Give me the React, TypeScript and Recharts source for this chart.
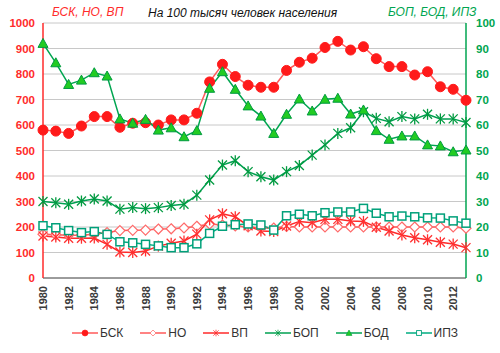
import React from 'react'
import { ComposedChart, Line, XAxis, YAxis, CartesianGrid, Legend } from 'recharts'

const years = [
  '1980', '1981', '1982', '1983', '1984', '1985', '1986', '1987', '1988', '1989',
  '1990', '1991', '1992', '1993', '1994', '1995', '1996', '1997', '1998', '1999',
  '2000', '2001', '2002', '2003', '2004', '2005', '2006', '2007', '2008', '2009',
  '2010', '2011', '2012', '2013',
]

// left axis (per 100k)
const bsk = [580, 576, 567, 596, 633, 633, 591, 607, 609, 600, 620, 620, 646, 769, 838, 790, 756, 748, 748, 814, 846, 862, 904, 928, 894, 907, 860, 829, 829, 796, 809, 750, 740, 697]
const no = [172, 170, 168, 168, 172, 178, 186, 187, 188, 192, 193, 196, 203, 212, 208, 204, 200, 196, 196, 202, 200, 200, 200, 200, 200, 200, 200, 200, 200, 200, 200, 200, 200, 195]
const vp = [165, 161, 156, 156, 157, 132, 102, 100, 106, 125, 136, 145, 172, 228, 252, 240, 205, 184, 182, 204, 222, 217, 230, 230, 224, 222, 199, 184, 169, 158, 150, 140, 133, 119]

// right axis
const bop = [30.0, 29.5, 28.9, 30.2, 31.0, 30.2, 27.0, 27.6, 27.2, 27.6, 28.4, 28.9, 32.5, 38.4, 44.3, 46.0, 41.7, 39.7, 38.4, 41.7, 44.1, 48.2, 52.2, 56.7, 58.9, 65.2, 62.6, 61.3, 63.3, 62.4, 64.2, 62.4, 62.4, 61.0]
const bod = [92.0, 84.4, 75.9, 77.6, 80.5, 79.2, 62.4, 60.7, 62.2, 58.0, 58.9, 55.4, 57.8, 74.4, 80.9, 74.0, 67.5, 63.5, 56.7, 64.2, 70.2, 65.5, 70.1, 70.5, 64.3, 65.9, 57.8, 54.4, 55.7, 55.7, 52.2, 51.8, 49.5, 50.2]
const ipz = [20.5, 19.7, 18.6, 17.8, 18.2, 17.1, 14.2, 13.8, 13.2, 12.6, 11.9, 11.9, 13.4, 17.5, 20.3, 20.9, 21.2, 20.8, 18.8, 24.4, 25.0, 24.4, 25.6, 25.9, 25.9, 27.3, 25.4, 24.0, 24.3, 24.0, 23.6, 23.5, 22.4, 21.5]

const leftTicks = [0, 100, 200, 300, 400, 500, 600, 700, 800, 900, 1000]
const rightTicks = [0, 10, 20, 30, 40, 50, 60, 70, 80, 90, 100]

const FONT = '"Liberation Sans", Arial, sans-serif'
const RED = '#ff2b2b'
const GREEN = '#00a550'

const data = years.map((year, i) => ({
  year,
  bsk: bsk[i],
  no: no[i],
  vp: vp[i],
  bop: bop[i],
  bod: bod[i],
  ipz: ipz[i],
}))

type MarkerKind = 'circle' | 'diamond' | 'star' | 'triangle' | 'square'

function Marker({ kind, cx, cy, color, fill }: { kind: MarkerKind; cx: number; cy: number; color: string; fill: string }) {
  if (kind === 'circle') return <circle cx={cx} cy={cy} r={5} fill={fill} stroke={color} strokeWidth={1} />
  if (kind === 'diamond') {
    const r = 5
    return (
      <polygon
        points={`${cx},${cy - r} ${cx + r},${cy} ${cx},${cy + r} ${cx - r},${cy}`}
        fill={fill}
        stroke={color}
        strokeWidth={1.2}
      />
    )
  }
  if (kind === 'triangle') {
    const r = 5
    return (
      <polygon
        points={`${cx},${cy - r} ${cx + r},${cy + r * 0.8} ${cx - r},${cy + r * 0.8}`}
        fill={fill}
        stroke={color}
        strokeWidth={1}
      />
    )
  }
  if (kind === 'square') {
    const r = 4
    return <rect x={cx - r} y={cy - r} width={r * 2} height={r * 2} fill={fill} stroke={color} strokeWidth={1.5} />
  }
  // excel-like star: X plus vertical bar
  const r = 4.5
  return (
    <g stroke={color} strokeWidth={1.3}>
      <line x1={cx - r} y1={cy - r} x2={cx + r} y2={cy + r} />
      <line x1={cx - r} y1={cy + r} x2={cx + r} y2={cy - r} />
      <line x1={cx} y1={cy - r - 1} x2={cx} y2={cy + r + 1} />
    </g>
  )
}

const series = [
  { key: 'bsk', name: 'БСК', axis: 'left', line: '#ff5a5a', color: '#ff1a1a', fill: '#ff1a1a', kind: 'circle' as MarkerKind },
  { key: 'no', name: 'НО', axis: 'left', line: '#ff5a5a', color: '#ff6a6a', fill: '#ffffff', kind: 'diamond' as MarkerKind },
  { key: 'vp', name: 'ВП', axis: 'left', line: '#ff2a2a', color: '#ff3030', fill: '#ff3030', kind: 'star' as MarkerKind },
  { key: 'bop', name: 'БОП', axis: 'right', line: '#00a050', color: '#009a40', fill: '#009a40', kind: 'star' as MarkerKind },
  { key: 'bod', name: 'БОД', axis: 'right', line: '#00a550', color: '#009a40', fill: '#22cc22', kind: 'triangle' as MarkerKind },
  { key: 'ipz', name: 'ИПЗ', axis: 'right', line: '#00ad80', color: '#00a07a', fill: '#ffffff', kind: 'square' as MarkerKind },
]

function YearTick({ x, y, payload }: any) {
  return (
    <text
      x={x}
      y={y}
      transform={`rotate(-90 ${x} ${y})`}
      textAnchor="end"
      dominantBaseline="central"
      fontSize={11}
      fontWeight="bold"
      fill="#3a3a3a"
      fontFamily={FONT}
    >
      {payload.value}
    </text>
  )
}

function LegendContent() {
  return (
    <div
      style={{
        display: 'flex',
        justifyContent: 'center',
        gap: 17,
        paddingTop: 3,
        paddingLeft: 30,
        fontFamily: FONT,
        fontSize: 12,
        color: '#333',
        lineHeight: '14px',
      }}
    >
      {series.map((s) => (
        <div key={s.key} style={{ display: 'flex', alignItems: 'center' }}>
          <svg width={26} height={14}>
            <line x1={0} y1={7} x2={26} y2={7} stroke={s.line} strokeWidth={1.5} />
            <g transform="translate(13 7) scale(0.6) translate(-13 -7)">
              <Marker kind={s.kind} cx={13} cy={7} color={s.color} fill={s.fill} />
            </g>
          </svg>
          <span style={{ marginLeft: 2 }}>{s.name}</span>
        </div>
      ))}
    </div>
  )
}

export default function App() {
  return (
    <div style={{ position: 'absolute', left: 0, top: 0, width: 500, height: 353, background: '#fff' }}>
      <div style={{ position: 'absolute', left: 52, top: 5, fontFamily: FONT, fontSize: 12, fontStyle: 'italic', color: RED }}>
        БСК, НО, ВП
      </div>
      <div style={{ position: 'absolute', left: 148, top: 6, fontFamily: FONT, fontSize: 12, fontStyle: 'italic', color: '#111' }}>
        На 100 тысяч человек населения
      </div>
      <div style={{ position: 'absolute', left: 388, top: 5, fontFamily: FONT, fontSize: 12, fontStyle: 'italic', color: GREEN }}>
        БОП, БОД, ИПЗ
      </div>
      <ComposedChart width={500} height={353} data={data} margin={{ top: 23, right: 0, left: 0, bottom: 0 }}>
        <CartesianGrid yAxisId="left" vertical={false} stroke="#c8c8c8" strokeWidth={1} />
        <XAxis
          dataKey="year"
          interval={1}
          tick={<YearTick />}
          tickLine={false}
          height={45}
          axisLine={{ stroke: '#555', strokeWidth: 1 }}
        />
        <YAxis
          yAxisId="left"
          orientation="left"
          width={43}
          domain={[0, 1000]}
          ticks={leftTicks}
          interval={0}
          tickLine={false}
          axisLine={{ stroke: RED, strokeWidth: 1.5 }}
          tick={{ fill: RED, fontSize: 11.5, fontWeight: 'bold', fontFamily: FONT }}
        />
        <YAxis
          yAxisId="right"
          orientation="right"
          width={34}
          domain={[0, 100]}
          ticks={rightTicks}
          interval={0}
          tickLine={false}
          tickMargin={4}
          axisLine={{ stroke: GREEN, strokeWidth: 1.5 }}
          tick={{ fill: GREEN, fontSize: 11.5, fontWeight: 'bold', fontFamily: FONT }}
        />
        <Legend verticalAlign="bottom" height={30} content={<LegendContent />} />
        {series.map((s) => (
          <Line
            key={s.key}
            yAxisId={s.axis}
            dataKey={s.key}
            name={s.name}
            type="linear"
            stroke={s.line}
            strokeWidth={1.5}
            isAnimationActive={false}
            activeDot={false}
            dot={(p: any) => <Marker key={`${s.key}-${p.index}`} kind={s.kind} cx={p.cx} cy={p.cy} color={s.color} fill={s.fill} />}
          />
        ))}
      </ComposedChart>
    </div>
  )
}
